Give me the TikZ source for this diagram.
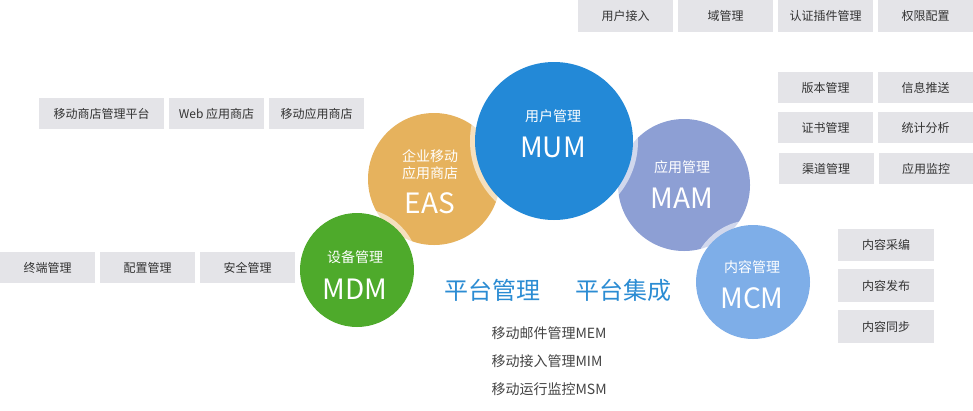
\documentclass[tikz,border=0pt]{standalone}
\usepackage{fontspec}
\setmainfont{Noto Sans CJK SC}
\begin{document}
\begin{tikzpicture}[x=1pt,y=-1pt,
  gbox/.style={fill=boxgray,text=boxtext,inner sep=0pt,font=\fontsize{12}{14}\selectfont},
  bub/.style={circle,inner sep=0pt},
  halo/.style={circle,inner sep=0pt,fill=white,fill opacity=0.6},
  cname/.style={text=white,font=\fontsize{14}{17}\selectfont,align=center},
  cabbr/.style={text=white,font=\fontsize{28}{30}\selectfont},
  big/.style={text=titleblue,font=\fontsize{24}{28}\selectfont},
  item/.style={text=itemgray,font=\fontsize{14}{16}\selectfont,anchor=west}]
\definecolor{boxgray}{HTML}{E4E4E8}
\definecolor{boxtext}{HTML}{333333}
\definecolor{easc}{HTML}{E6B25D}
\definecolor{mdmc}{HTML}{4EAA2B}
\definecolor{mumc}{HTML}{2389D7}
\definecolor{mamc}{HTML}{8D9FD4}
\definecolor{mcmc}{HTML}{7EAEE8}
\definecolor{titleblue}{HTML}{2B8CD3}
\definecolor{itemgray}{HTML}{444444}
\useasboundingbox (0,0) rectangle (973,410);
\fill[white] (0,0) rectangle (973,410);
% top row
\node[gbox,minimum width=95pt,minimum height=32pt] (t1) at (625.5,16) {用户接入};
\node[gbox,minimum width=95pt,minimum height=32pt] (t2) at (725.5,16) {域管理};
\node[gbox,minimum width=95pt,minimum height=32pt] (t3) at (825.5,16) {认证插件管理};
\node[gbox,minimum width=95pt,minimum height=32pt] (t4) at (925.5,16) {权限配置};
% right group
\node[gbox,minimum width=95pt,minimum height=31pt] (r1) at (825.5,87.5) {版本管理};
\node[gbox,minimum width=95pt,minimum height=31pt] (r2) at (925.5,87.5) {信息推送};
\node[gbox,minimum width=95pt,minimum height=31pt] (r3) at (825.5,127.5) {证书管理};
\node[gbox,minimum width=95pt,minimum height=31pt] (r4) at (925.5,127.5) {统计分析};
\node[gbox,minimum width=95pt,minimum height=31pt] (r5) at (826,168.5) {渠道管理};
\node[gbox,minimum width=95pt,minimum height=31pt] (r6) at (926,168.5) {应用监控};
% left top
\node[gbox,minimum width=125pt,minimum height=31pt] (l1) at (101.5,113.5) {移动商店管理平台};
\node[gbox,minimum width=95pt,minimum height=31pt] (l2) at (216.5,113.5) {Web 应用商店};
\node[gbox,minimum width=95pt,minimum height=31pt] (l3) at (316.5,113.5) {移动应用商店};
% left bottom
\node[gbox,minimum width=95pt,minimum height=31pt] (b1) at (47.5,267.5) {终端管理};
\node[gbox,minimum width=95pt,minimum height=31pt] (b2) at (147.5,267.5) {配置管理};
\node[gbox,minimum width=95pt,minimum height=31pt] (b3) at (247.5,267.5) {安全管理};
% MCM group
\node[gbox,minimum width=96pt,minimum height=32pt] (m1) at (886,245) {内容采编};
\node[gbox,minimum width=96pt,minimum height=33pt] (m2) at (886,285.5) {内容发布};
\node[gbox,minimum width=96pt,minimum height=33pt] (m3) at (886,326.5) {内容同步};
% bubbles
\node[bub,fill=easc,minimum size=132pt] (eas) at (434,179) {};
\node[bub,fill=mamc,minimum size=132pt] (mam) at (684,185) {};
\node[halo,minimum size=168pt] (mumh) at (554,141) {};
\node[bub,fill=mumc,minimum size=158pt] (mum) at (554,141) {};
\node[halo,minimum size=124pt] (mdmh) at (357,270) {};
\node[bub,fill=mdmc,minimum size=114pt] (mdm) at (357,270) {};
\node[halo,minimum size=124pt] (mcmh) at (753,282) {};
\node[bub,fill=mcmc,minimum size=114pt] (mcm) at (753,282) {};
% bubble labels
\node[cname] (mumn) at (553,116) {用户管理};
\node[cabbr] (muma) at (553,147) {MUM};
\node[cname] (easn) at (430,165) {企业移动\\应用商店};
\node[cabbr] (easa) at (430,203) {EAS};
\node[cname] (mdmn) at (355,257) {设备管理};
\node[cabbr] (mdma) at (355,289) {MDM};
\node[cname] (mamn) at (682,167) {应用管理};
\node[cabbr] (mama) at (682,198) {MAM};
\node[cname] (mcmn) at (752,267) {内容管理};
\node[cabbr] (mcma) at (752,298) {MCM};
% titles
\node[big] (pm) at (492,290) {平台管理};
\node[big] (pi) at (623,290) {平台集成};
% items
\node[item] (i1) at (488,333) {移动邮件管理MEM};
\node[item] (i2) at (488,361) {移动接入管理MIM};
\node[item] (i3) at (488,389) {移动运行监控MSM};
\end{tikzpicture}
\end{document}
